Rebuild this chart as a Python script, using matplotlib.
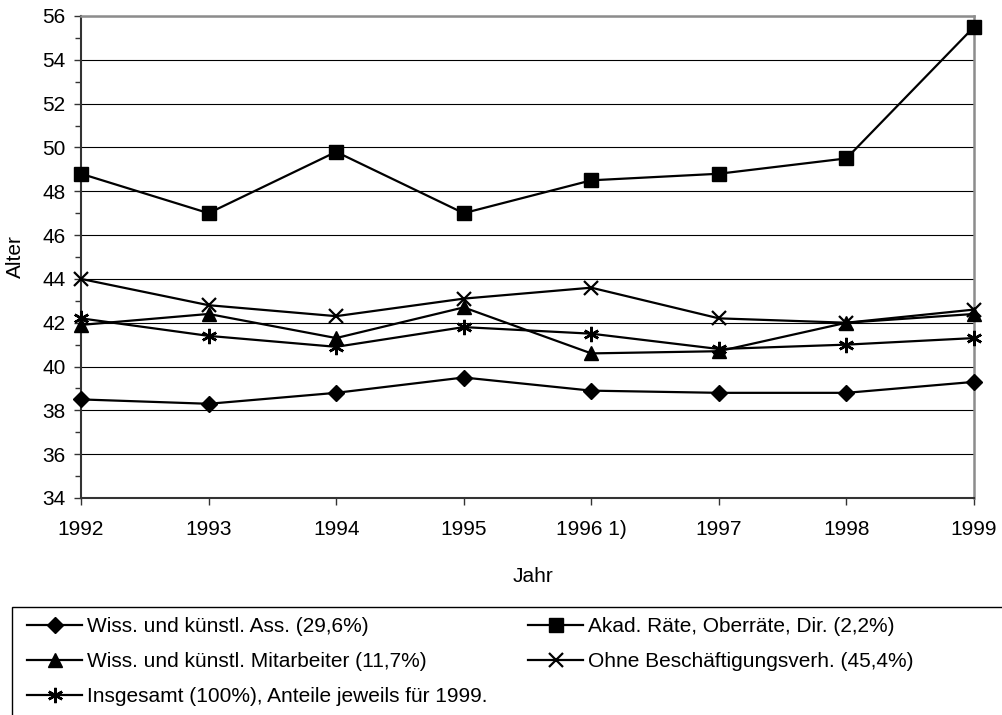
import matplotlib
matplotlib.use("Agg")
import matplotlib.pyplot as plt
from matplotlib.patches import Rectangle
from matplotlib.ticker import MultipleLocator

plt.rcParams['font.family'] = ['Liberation Sans', 'DejaVu Sans']

years = ["1992", "1993", "1994", "1995", "1996 1)", "1997", "1998", "1999"]
ass = [38.5, 38.3, 38.8, 39.5, 38.9, 38.8, 38.8, 39.3]
akad = [48.8, 47.0, 49.8, 47.0, 48.5, 48.8, 49.5, 55.5]
mitarb = [41.9, 42.4, 41.3, 42.7, 40.6, 40.7, 42.0, 42.4]
ohne = [44.0, 42.8, 42.3, 43.1, 43.6, 42.2, 42.0, 42.6]
gesamt = [42.2, 41.4, 40.9, 41.8, 41.5, 40.8, 41.0, 41.3]

labels = ["Wiss. und künstl. Ass. (29,6%)",
          "Akad. Räte, Oberräte, Dir. (2,2%)",
          "Wiss. und künstl. Mitarbeiter (11,7%)",
          "Ohne Beschäftigungsverh. (45,4%)",
          "Insgesamt (100%), Anteile jeweils für 1999."]

W, H = 1002, 715
fig = plt.figure(figsize=(W / 100, H / 100), dpi=100)
L, R, T, B = 81, 974, 16, 498
ax = fig.add_axes([L / W, 1 - B / H, (R - L) / W, (B - T) / H])

x = list(range(len(years)))
lw = 1.6
h_ass, = ax.plot(x, ass, color='black', lw=lw, marker='D', ms=8.5, clip_on=False, zorder=5)
h_akad, = ax.plot(x, akad, color='black', lw=lw, marker='s', ms=10, clip_on=False, zorder=5)
h_mit, = ax.plot(x, mitarb, color='black', lw=lw, marker='^', ms=10, clip_on=False, zorder=5)
h_ohne, = ax.plot(x, ohne, color='black', lw=lw, marker='x', ms=10, mew=1.6, clip_on=False, zorder=5)
h_ges, = ax.plot(x, gesamt, color='black', lw=lw, marker=(6, 2, 0), ms=11, mew=1.8, clip_on=False, zorder=5)

ax.set_xlim(0, len(years) - 1)
ax.set_ylim(34, 56)
ax.set_xticks(x)
ax.set_xticklabels(years)
ax.yaxis.set_major_locator(MultipleLocator(2))
ax.yaxis.set_minor_locator(MultipleLocator(1))
ax.grid(axis='y', which='major', color='black', lw=0.8)
ax.set_axisbelow(True)

for s in ['left', 'bottom']:
    ax.spines[s].set_color('#333333')
    ax.spines[s].set_linewidth(1.5)
for s in ['top', 'right']:
    ax.spines[s].set_color('#8c8c8c')
    ax.spines[s].set_linewidth(1.8)

FS = 15
ax.tick_params(axis='both', which='major', labelsize=FS, length=5, width=1.0, direction='out', color='#333333')
ax.tick_params(axis='y', which='minor', length=4, width=1.0, color='#333333')
ax.tick_params(axis='x', pad=10.5)
ax.tick_params(axis='y', pad=6)

fig.text(533 / W, 1 - 577 / H, "Jahr", ha='center', va='center', fontsize=FS)
fig.text(15 / W, 1 - 257 / H, "Alter", ha='center', va='center', rotation=90, fontsize=FS)

# legend frame extending past figure edge
fig.patches.append(Rectangle((12 / W, -0.1), 1.1, (1 - 607 / H) + 0.1,
                             transform=fig.transFigure, fill=False,
                             edgecolor='black', lw=1.0))

leg_kw = dict(loc='upper left', frameon=False, fontsize=FS, handlelength=2.65,
              handletextpad=0.25, labelspacing=0.78, borderpad=0, borderaxespad=0)
leg1 = fig.legend([h_ass, h_mit, h_ges], [labels[0], labels[2], labels[4]],
                  bbox_to_anchor=(27 / W, 1 - 617 / H), **leg_kw)
leg2 = fig.legend([h_akad, h_ohne], [labels[1], labels[3]],
                  bbox_to_anchor=(528 / W, 1 - 617 / H), **leg_kw)

fig.savefig("out.png", dpi=100)
